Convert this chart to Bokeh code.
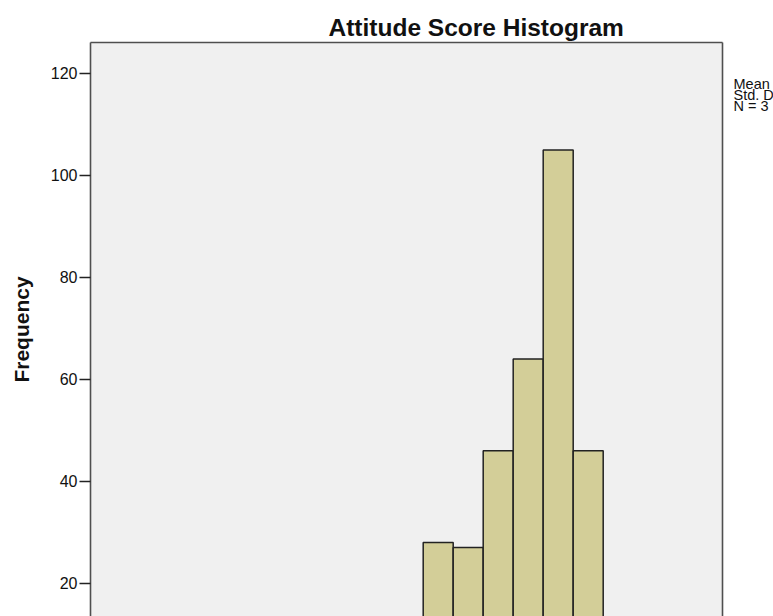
from bokeh.plotting import figure
from bokeh.models import Range1d, FixedTicker, LinearAxis, ColumnDataSource
from bokeh.layouts import row
from bokeh.core.properties import value
from bokeh.embed import file_html
from bokeh.resources import INLINE

# ---- data ----
bin_left = [11, 12, 13, 14, 15, 16]
bin_right = [12, 13, 14, 15, 16, 17]
frequency = [28, 27, 46, 64, 105, 46]
y_ticks = [20, 40, 60, 80, 100, 120]
title_text = "Attitude Score Histogram"
y_label = "Frequency"
stats_lines = ["Mean", "Std. D", "N = 3"]

W, H = 773, 616
MAIN_W = 733
FL, FT, FR = 90, 42, 722          # frame left / top / right (page px)
PX_PER_BIN = 30.0
PX_PER_UNIT = 5.097
ZERO_Y = 684.6                     # page y of frequency 0

X0 = 11 - (422.7 - FL) / PX_PER_BIN
X1 = X0 + (FR - FL) / PX_PER_BIN
Y1 = (ZERO_Y - FT) / PX_PER_UNIT
Y0 = (ZERO_Y - H) / PX_PER_UNIT

p = figure(width=MAIN_W, height=H, output_backend="svg", toolbar_location=None,
           x_range=Range1d(X0, X1), y_range=Range1d(Y0, Y1),
           min_border_left=FL, min_border_top=FT, min_border_right=MAIN_W - FR,
           min_border_bottom=0)
p.background_fill_color = "#f0f0f0"
p.border_fill_color = "white"
p.outline_line_color = None
p.xgrid.visible = False
p.ygrid.visible = False
p.xaxis.visible = False

p.title.text = title_text
p.title.align = "left"
p.title.offset = 238
p.title.standoff = 3
p.title.text_font = "Liberation Sans"
p.title.text_font_style = "bold"
p.title.text_font_size = "24.5px"
p.title.text_color = "#111111"

frame_col = "#4f4f4f"

ax = p.yaxis[0]
ax.ticker = FixedTicker(ticks=y_ticks)
ax.axis_line_color = frame_col
ax.axis_line_width = 1.6
ax.major_tick_out = 11
ax.major_tick_in = 0
ax.minor_tick_out = 0
ax.minor_tick_in = 0
ax.major_tick_line_color = "#222222"
ax.major_tick_line_width = 1.5
ax.major_label_standoff = 2
ax.major_label_text_font = "Liberation Sans"
ax.major_label_text_font_size = "16px"
ax.major_label_text_color = "#111111"
ax.axis_label = y_label
ax.axis_label_text_font = "Liberation Sans"
ax.axis_label_text_font_style = "bold"
ax.axis_label_text_font_size = "21px"
ax.axis_label_text_color = "#111111"
ax.axis_label_standoff = 15

for loc in ("right", "above"):
    a = LinearAxis(ticker=FixedTicker(ticks=[]), axis_line_color=frame_col,
                   axis_line_width=1.6, major_tick_out=0, major_tick_in=0,
                   minor_tick_out=0, minor_tick_in=0, major_label_standoff=0,
                   major_label_text_font_size="0px")
    p.add_layout(a, loc)

src = ColumnDataSource(dict(left=bin_left, right=bin_right, top=frequency,
                            bottom=[0] * len(frequency)))
p.quad(left="left", right="right", top="top", bottom="bottom", source=src,
       fill_color="#d3ce98", line_color="#222222", line_width=1.5)

# ---- side panel with the summary statistics text ----
# its frame is aligned with the main frame (page y 42..616, x 733..773),
# so its ranges are expressed in page pixels
SIDE_W = W - MAIN_W
p2 = figure(width=SIDE_W, height=H, output_backend="svg", toolbar_location=None,
            title=None, x_axis_location=None, y_axis_location=None,
            x_range=Range1d(MAIN_W, W), y_range=Range1d(H, FT),
            min_border_left=0, min_border_right=0, min_border_top=0,
            min_border_bottom=0)
p2.grid.visible = False
p2.outline_line_color = None
p2.background_fill_color = "white"
p2.border_fill_color = "white"
side = ColumnDataSource(dict(x=[733] * len(stats_lines),
                             y=[83 + 11 * i for i in range(len(stats_lines))],
                             t=stats_lines))
p2.text(x="x", y="y", text="t", source=side, text_align="left",
        text_baseline="alphabetic", text_font=value("Liberation Sans"),
        text_font_size="14.5px", text_color="#111111")

layout = row(p, p2, spacing=0)
open("out.html", "w").write(file_html(layout, INLINE))
